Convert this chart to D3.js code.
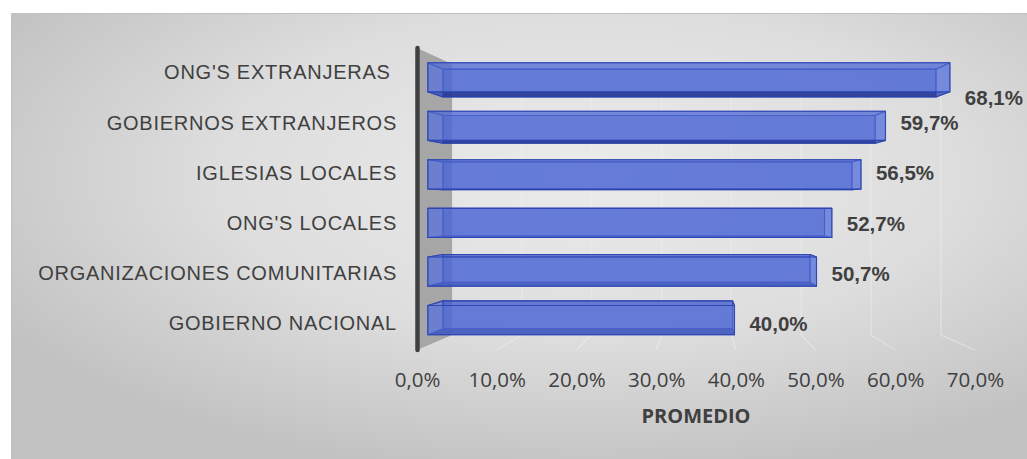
<!DOCTYPE html>
<html>
<head>
<meta charset="utf-8">
<script src="https://cdn.jsdelivr.net/npm/d3@7"></script>
<style>
  body { margin: 0; background: #fff; }
  svg { display: block; }
</style>
</head>
<body>
<script>
'use strict';

// chart data
const categories = ["ONG'S EXTRANJERAS ", "GOBIERNOS EXTRANJEROS", "IGLESIAS LOCALES",
  "ONG'S LOCALES", "ORGANIZACIONES COMUNITARIAS", "GOBIERNO NACIONAL"];
const values = [68.1, 59.7, 56.5, 52.7, 50.7, 40.0];
const xTicks = [0, 10, 20, 30, 40, 50, 60, 70];
const axisTitle = "PROMEDIO";

(function() {

  const width = 1027, height = 459;
  // fake 3d: points are pulled toward a vanishing point as depth z goes 0 -> 1
  const VPX = 700, VPY = 204, KX = 0.124, KY = 0.103;
  const Z0 = 0.31, Z1 = 0.74; // depth of the bars

  function proj(x, y, z) {
    return [VPX + (x - VPX) * (1 - KX * z), VPY + (y - VPY) * (1 - KY * z)];
  }

  const locale = d3.formatLocale({decimal: ",", thousands: ".", grouping: [3], currency: ["", "€"]});
  const pct = v => locale.format(".1f")(v) + "%";

  window.onload = function() {
    const svg = d3.select('body').append('svg')
      .attr('width', width)
      .attr('height', height);

    // background gradient
    const defs = svg.append('defs');
    const grad = defs.append('radialGradient')
      .attr('id', 'bg')
      .attr('cx', 0.56).attr('cy', 0.35).attr('r', 0.66);
    grad.append('stop').attr('offset', '0%').attr('stop-color', '#ebebeb');
    grad.append('stop').attr('offset', '55%').attr('stop-color', '#dddddd');
    grad.append('stop').attr('offset', '100%').attr('stop-color', '#c2c2c2');

    svg.append('rect')
      .attr('x', 11.5).attr('y', 13.5)
      .attr('width', width).attr('height', height)
      .attr('fill', 'url(#bg)')
      .attr('stroke', '#c0c0c0');

    // scales live on the front plane (z = 0)
    const xScale = d3.scaleLinear().domain([0, 70]).range([417, 975]);
    const yScale = d3.scaleBand().domain(categories).range([48, 349])
      .paddingInner(0.4).paddingOuter(0.2);
    const yTop = 48, yBot = 350, x0 = xScale(0);

    // grid lines on back wall and floor, very faint
    const grid = svg.append('g');
    xTicks.slice(1).forEach(t => {
      const top = proj(xScale(t), yTop, 1), bot = proj(xScale(t), yBot, 1);
      grid.append('path')
        .attr('d', d3.line()([top, bot, [xScale(t), yBot]]))
        .attr('fill', 'none')
        .attr('stroke', '#f2f2f2')
        .attr('stroke-opacity', 0.45)
        .attr('stroke-width', 1.3);
    });

    // side wall
    svg.append('path')
      .attr('d', d3.line()([[x0, yTop], proj(x0, yTop, 1), proj(x0, yBot, 1), [x0, yBot]]) + 'Z')
      .attr('fill', '#a6a6a6');
    svg.append('line')
      .attr('x1', x0 + 0.5).attr('x2', x0 + 0.5)
      .attr('y1', yTop).attr('y2', yBot)
      .attr('stroke', '#3f3f3f')
      .attr('stroke-width', 4.5)
      .attr('stroke-linecap', 'round');

    // bars as transparent boxes
    const bars = svg.append('g');
    categories.forEach((c, i) => {
      const xa = x0, xb = xScale(values[i]);
      const ya = yScale(c), yb = ya + yScale.bandwidth();
      const f = [proj(xa, ya, Z0), proj(xb, ya, Z0), proj(xb, yb, Z0), proj(xa, yb, Z0)];
      const b = [proj(xa, ya, Z1), proj(xb, ya, Z1), proj(xb, yb, Z1), proj(xa, yb, Z1)];
      const faces = [
        {p: b, fill: '#3853cc', op: 0.6},
        {p: [f[3], f[2], b[2], b[3]], fill: '#26388f', op: 0.85},
        {p: [f[0], f[1], b[1], b[0]], fill: '#4660d0', op: 0.4},
        {p: [f[0], b[0], b[3], f[3]], fill: '#6a83e8', op: 0.35},
        {p: [f[1], b[1], b[2], f[2]], fill: '#7089ea', op: 0.45},
        {p: f, fill: '#5570d8', op: 0.62}
      ];
      faces.forEach(fc => {
        bars.append('path')
          .attr('d', d3.line()(fc.p) + 'Z')
          .attr('fill', fc.fill)
          .attr('fill-opacity', fc.op)
          .attr('stroke', '#2c44b2')
          .attr('stroke-opacity', 0.85)
          .attr('stroke-width', 1.1)
          .attr('stroke-linejoin', 'round');
      });
    });

    // data labels
    svg.append('g').selectAll('text')
      .data(values)
      .enter()
      .append('text')
      .attr('x', (d) => proj(xScale(d), 0, Z0)[0] + 15)
      // the top label sits under its bar in the original
      .attr('y', (d, i) => {
        const c = yScale(categories[i]) + yScale.bandwidth() / 2;
        return (i === 0 ? c + 25 : c) + 7;
      })
      .style('font-family', '"Liberation Sans", Arial, sans-serif')
      .style('font-size', '20.5px')
      .style('font-weight', 'bold')
      .style('fill', '#404040')
      .text(d => pct(d));

    // category axis
    const yAxis = svg.append('g')
      .attr('transform', 'translate(' + x0 + ',0)')
      .call(d3.axisLeft(yScale).tickSize(0).tickPadding(20));
    yAxis.select('.domain').remove();
    yAxis.selectAll('text')
      .style('font-family', '"Liberation Sans", Arial, sans-serif')
      .style('font-size', '20px')
      .style('letter-spacing', '0.75px')
      .style('fill', '#404040')
      .style('white-space', 'pre');

    // value axis
    const xAxis = svg.append('g')
      .attr('transform', 'translate(0,' + yBot + ')')
      .call(d3.axisBottom(xScale).tickValues(xTicks).tickFormat(pct).tickSize(0).tickPadding(22));
    xAxis.select('.domain').remove();
    xAxis.selectAll('text')
      .style('font-family', '"Open Sans", sans-serif')
      .style('font-size', '20.5px')
      .style('fill', '#404040');

    svg.append('text')
      .attr('x', (xScale(0) + xScale(70)) / 2)
      .attr('y', 423)
      .attr('text-anchor', 'middle')
      .style('font-family', '"Open Sans", sans-serif')
      .style('font-size', '20px')
      .style('font-weight', 'bold')
      .style('fill', '#404040')
      .text(axisTitle);
  }

})();
</script>
</body>
</html>
